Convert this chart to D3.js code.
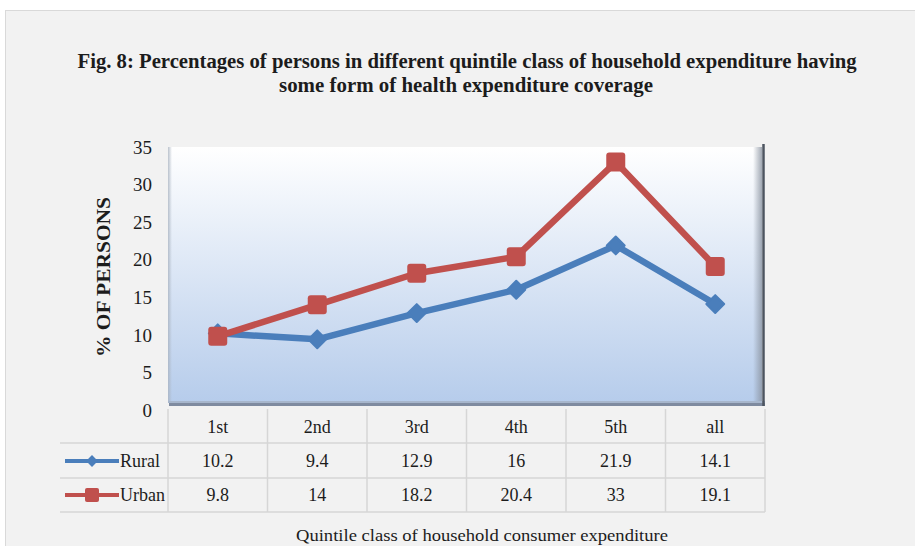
<!DOCTYPE html>
<html>
<head>
<meta charset="utf-8">
<script src="https://cdn.jsdelivr.net/npm/d3@7"></script>
<style>
  body { margin: 0; background: #fff; }
  svg { display: block; }
  text { font-family: "Liberation Serif", "Times New Roman", serif; fill: #1c1c1c; }
</style>
</head>
<body>
<script>
const categories = ['1st', '2nd', '3rd', '4th', '5th', 'all'];
const rural = [10.2, 9.4, 12.9, 16, 21.9, 14.1];
const urban = [9.8, 14, 18.2, 20.4, 33, 19.1];
const yTicks = [0, 5, 10, 15, 20, 25, 30, 35];
const seriesNames = ['Rural', 'Urban'];

const width = 915, height = 546;
const blue = '#4a7ebb', red = '#c0504d';

const svg = d3.select('body').append('svg')
  .attr('width', width)
  .attr('height', height);

const defs = svg.append('defs');
const wallGrad = defs.append('linearGradient')
  .attr('id', 'wall').attr('x1', 0).attr('y1', 0).attr('x2', 0).attr('y2', 1);
wallGrad.append('stop').attr('offset', '0%').attr('stop-color', '#ffffff');
wallGrad.append('stop').attr('offset', '100%').attr('stop-color', '#b6cceb');
const sideGrad = defs.append('linearGradient')
  .attr('id', 'side').attr('x1', 0).attr('y1', 0).attr('x2', 1).attr('y2', 0);
sideGrad.append('stop').attr('offset', '0%').attr('stop-color', '#8a93a0').attr('stop-opacity', 0);
sideGrad.append('stop').attr('offset', '100%').attr('stop-color', '#8a93a0').attr('stop-opacity', 0.8);
const leftGrad = defs.append('linearGradient')
  .attr('id', 'leftedge').attr('x1', 0).attr('y1', 0).attr('x2', 1).attr('y2', 0);
leftGrad.append('stop').attr('offset', '0%').attr('stop-color', '#a9b3c0').attr('stop-opacity', 0.8);
leftGrad.append('stop').attr('offset', '100%').attr('stop-color', '#a9b3c0').attr('stop-opacity', 0);

// figure frame
svg.append('rect')
  .attr('x', 5.5).attr('y', 10.5)
  .attr('width', width).attr('height', height)
  .attr('fill', '#f2f2f2')
  .attr('stroke', '#d9d9d9');

const x = d3.scaleBand().domain(categories).range([168, 765]);
const y = d3.scaleLinear().domain([0, 35]).range([410, 147]);

// plot wall
const wallTop = y(35), wallBottom = 403;
svg.append('rect')
  .attr('x', x.range()[0]).attr('y', wallTop)
  .attr('width', x.range()[1] - x.range()[0] - 3)
  .attr('height', wallBottom - wallTop)
  .attr('fill', 'url(#wall)');
svg.append('rect')
  .attr('x', x.range()[0]).attr('y', wallTop)
  .attr('width', 4).attr('height', wallBottom - wallTop)
  .attr('fill', 'url(#leftedge)');
svg.append('rect')
  .attr('x', x.range()[1] - 12).attr('y', wallTop)
  .attr('width', 9).attr('height', wallBottom - wallTop)
  .attr('fill', 'url(#side)');
svg.append('rect')
  .attr('x', x.range()[0]).attr('y', wallBottom - 2)
  .attr('width', x.range()[1] - x.range()[0])
  .attr('height', 2)
  .attr('fill', '#a7b6cc');
svg.append('rect')
  .attr('x', x.range()[0] + 1).attr('y', wallBottom)
  .attr('width', x.range()[1] - x.range()[0] - 1)
  .attr('height', 3)
  .attr('fill', '#7f8ba0');
svg.append('line')
  .attr('x1', x.range()[1] - 1.5).attr('x2', x.range()[1] - 1.5)
  .attr('y1', wallTop - 3).attr('y2', wallBottom + 3)
  .attr('stroke', '#4d5560').attr('stroke-width', 2.5);

// y tick labels
svg.append('g')
  .selectAll('text')
  .data(yTicks)
  .join('text')
  .attr('x', 152)
  .attr('y', d => y(d))
  .attr('dy', '0.35em')
  .attr('text-anchor', 'end')
  .style('font-size', '19px')
  .text(d => d);

// y axis title
svg.append('text')
  .attr('transform', `translate(110,${(197 + 357) / 2}) rotate(-90)`)
  .attr('text-anchor', 'middle')
  .attr('textLength', 160)
  .attr('lengthAdjust', 'spacingAndGlyphs')
  .style('font-size', '19px')
  .style('font-weight', 'bold')
  .text('% OF PERSONS');

// lines
const line = d3.line()
  .x((d, i) => x(categories[i]) + x.bandwidth() / 2)
  .y(d => y(d));

svg.append('path')
  .datum(rural)
  .attr('d', line)
  .attr('fill', 'none')
  .attr('stroke', blue)
  .attr('stroke-width', 6.5)
  .attr('stroke-linejoin', 'round');

svg.append('g')
  .selectAll('path')
  .data(rural)
  .join('path')
  .attr('d', d3.symbol(d3.symbolSquare, 160))
  .attr('transform', (d, i) => `translate(${x(categories[i]) + x.bandwidth() / 2},${y(d)}) rotate(45)`)
  .attr('fill', blue)
  .attr('stroke', blue)
  .attr('stroke-linejoin', 'round')
  .attr('stroke-width', 2);

svg.append('path')
  .datum(urban)
  .attr('d', line)
  .attr('fill', 'none')
  .attr('stroke', red)
  .attr('stroke-width', 6.5)
  .attr('stroke-linejoin', 'round');

svg.append('g')
  .selectAll('rect')
  .data(urban)
  .join('rect')
  .attr('x', (d, i) => x(categories[i]) + x.bandwidth() / 2 - 9.5)
  .attr('y', d => y(d) - 9.5)
  .attr('width', 19).attr('height', 19)
  .attr('rx', 3)
  .attr('fill', red);

// data table
const rowLines = [443, 478, 512];
const rowCenters = [427, 461, 495];
const table = svg.append('g').attr('stroke', '#d6d6d6').attr('stroke-width', 1.5);
table.selectAll('line.h')
  .data(rowLines)
  .join('line')
  .attr('class', 'h')
  .attr('x1', 60).attr('x2', x.range()[1])
  .attr('y1', d => d).attr('y2', d => d);
table.selectAll('line.v')
  .data(categories.map(c => x(c)).concat([x.range()[1]]))
  .join('line')
  .attr('class', 'v')
  .attr('x1', d => d).attr('x2', d => d)
  .attr('y1', 409).attr('y2', rowLines[2]);

svg.append('g')
  .selectAll('text')
  .data(categories)
  .join('text')
  .attr('x', d => x(d) + x.bandwidth() / 2)
  .attr('y', rowCenters[0])
  .attr('dy', '0.35em')
  .attr('text-anchor', 'middle')
  .style('font-size', '18px')
  .text(d => d);

[rural, urban].forEach((vals, r) => {
  svg.append('g')
    .selectAll('text')
    .data(vals)
    .join('text')
    .attr('x', (d, i) => x(categories[i]) + x.bandwidth() / 2)
    .attr('y', rowCenters[r + 1])
    .attr('dy', '0.35em')
    .attr('text-anchor', 'middle')
    .style('font-size', '18px')
    .text(d => d);
});

// legend keys in table
const legend = svg.append('g');
seriesNames.forEach((name, r) => {
  const cy = rowCenters[r + 1];
  const col = r === 0 ? blue : red;
  legend.append('line')
    .attr('x1', 65).attr('x2', 119)
    .attr('y1', cy).attr('y2', cy)
    .attr('stroke', col).attr('stroke-width', 4);
  if (r === 0) {
    legend.append('path')
      .attr('d', d3.symbol(d3.symbolSquare, 70))
      .attr('transform', `translate(92,${cy}) rotate(45)`)
      .attr('fill', col);
  } else {
    legend.append('rect')
      .attr('x', 85).attr('y', cy - 7)
      .attr('width', 14).attr('height', 14)
      .attr('rx', 2)
      .attr('fill', col);
  }
  legend.append('text')
    .attr('x', 120)
    .attr('y', cy)
    .attr('dy', '0.35em')
    .style('font-size', '18px')
    .text(name);
});

// titles
svg.append('text')
  .attr('x', 467).attr('y', 68)
  .attr('text-anchor', 'middle')
  .attr('textLength', 779)
  .attr('lengthAdjust', 'spacingAndGlyphs')
  .style('font-size', '20px')
  .style('font-weight', 'bold')
  .text('Fig. 8: Percentages of persons in different quintile class of household expenditure having');

svg.append('text')
  .attr('x', 466).attr('y', 92)
  .attr('text-anchor', 'middle')
  .attr('textLength', 374)
  .attr('lengthAdjust', 'spacingAndGlyphs')
  .style('font-size', '20px')
  .style('font-weight', 'bold')
  .text('some form of health expenditure coverage');

svg.append('text')
  .attr('x', 482).attr('y', 541)
  .attr('text-anchor', 'middle')
  .attr('textLength', 372)
  .attr('lengthAdjust', 'spacingAndGlyphs')
  .style('font-size', '16px')
  .text('Quintile class of household consumer expenditure');
</script>
</body>
</html>
